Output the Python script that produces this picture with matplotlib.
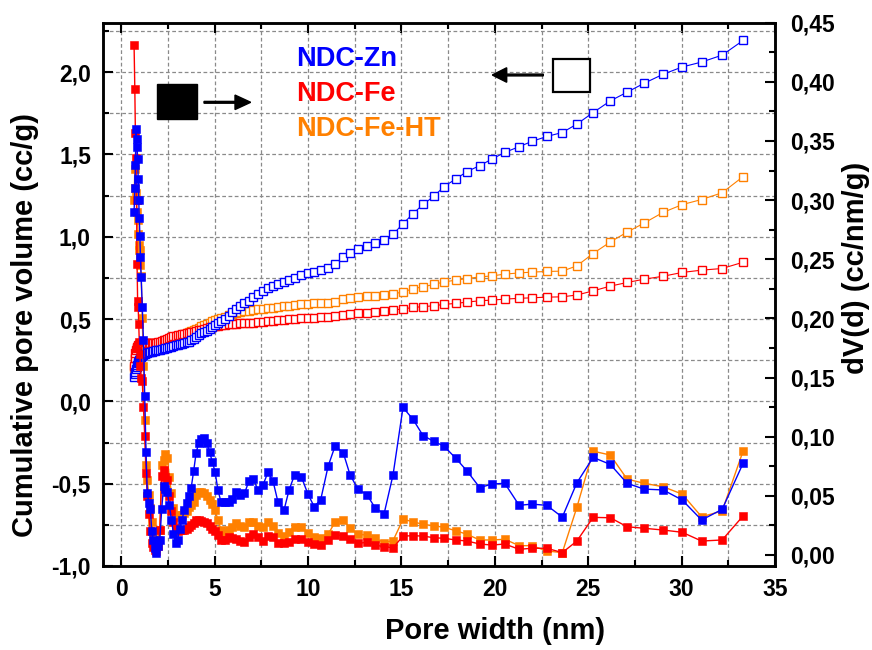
import matplotlib
matplotlib.use("Agg")
import matplotlib.pyplot as plt
from matplotlib.patches import Rectangle, FancyArrow
from matplotlib.ticker import MultipleLocator

plt.rcParams["font.family"] = ["Liberation Sans", "DejaVu Sans"]
plt.rcParams["font.weight"] = "bold"
plt.rcParams["axes.labelweight"] = "bold"

# Pore width (nm) of the DFT kernel, shared by all curves
pore_width = [
    0.68, 0.72, 0.75, 0.78, 0.81, 0.84, 0.87, 0.90, 0.93, 0.96, 0.99, 1.02, 1.06, 1.12,
    1.18, 1.25, 1.32, 1.39, 1.47, 1.55, 1.63, 1.71, 1.79, 1.88, 1.97, 2.06,
    2.16, 2.26, 2.36, 2.46, 2.57, 2.68, 2.79, 2.90, 3.01, 3.13, 3.25, 3.37, 3.49, 3.61,
    3.74, 3.87, 4.00, 4.14, 4.28, 4.42, 4.57, 4.72, 4.87, 5.02, 5.17,
    5.34, 5.54, 5.75, 5.94, 6.14, 6.35, 6.59, 6.83, 7.06, 7.32,
    7.58, 7.85, 8.12, 8.39, 8.71, 8.98, 9.28, 9.64, 9.99, 10.32,
    10.67, 11.07, 11.44, 11.88, 12.24, 12.67, 13.15, 13.60, 14.07, 14.55,
    15.08, 15.62, 16.15, 16.74, 17.28, 17.91, 18.51, 19.19, 19.85, 20.53,
    21.30, 21.98, 22.78, 23.61, 24.39, 25.26, 26.18, 27.08, 27.99, 29.01,
    30.03, 31.07, 32.17, 33.29,
]

# Cumulative pore volume (cc/g), left axis
cum_zn = [
    0.151, 0.168, 0.181, 0.195, 0.210, 0.222, 0.232, 0.240, 0.247, 0.254, 0.260, 0.265, 0.270, 0.276,
    0.283, 0.290, 0.293, 0.296, 0.298, 0.300, 0.302, 0.304, 0.307, 0.309, 0.312, 0.315,
    0.318, 0.321, 0.324, 0.326, 0.328, 0.332, 0.336, 0.340, 0.343, 0.347, 0.351, 0.355, 0.358, 0.363,
    0.370, 0.380, 0.390, 0.402, 0.414, 0.420, 0.430, 0.440, 0.450, 0.462, 0.474,
    0.487, 0.500, 0.520, 0.540, 0.560, 0.578, 0.595, 0.612, 0.632, 0.652,
    0.670, 0.688, 0.700, 0.712, 0.726, 0.738, 0.750, 0.765, 0.778, 0.787,
    0.797, 0.810, 0.837, 0.874, 0.904, 0.924, 0.944, 0.964, 0.982, 1.015,
    1.079, 1.140, 1.196, 1.246, 1.305, 1.351, 1.396, 1.432, 1.472, 1.512,
    1.547, 1.579, 1.609, 1.633, 1.684, 1.754, 1.825, 1.878, 1.932, 1.987,
    2.031, 2.061, 2.103, 2.192,
]
cum_fe = [
    0.212, 0.265, 0.295, 0.312, 0.323, 0.331, 0.336, 0.340, 0.343, 0.345, 0.347, 0.349, 0.350, 0.351,
    0.352, 0.353, 0.353, 0.353, 0.353, 0.353, 0.353, 0.354, 0.355, 0.356, 0.358, 0.361,
    0.365, 0.370, 0.375, 0.380, 0.384, 0.389, 0.394, 0.398, 0.402, 0.405, 0.408, 0.411, 0.414, 0.417,
    0.420, 0.423, 0.427, 0.431, 0.435, 0.440, 0.445, 0.449, 0.452, 0.455, 0.458,
    0.461, 0.464, 0.467, 0.469, 0.471, 0.473, 0.475, 0.477, 0.479, 0.482,
    0.485, 0.488, 0.491, 0.494, 0.497, 0.500, 0.502, 0.505, 0.507, 0.509,
    0.511, 0.513, 0.516, 0.523, 0.529, 0.534, 0.538, 0.543, 0.547, 0.555,
    0.561, 0.571, 0.575, 0.581, 0.589, 0.595, 0.603, 0.611, 0.615, 0.621,
    0.626, 0.629, 0.633, 0.635, 0.646, 0.671, 0.700, 0.722, 0.742, 0.760,
    0.783, 0.797, 0.807, 0.845,
]
cum_fe_ht = [
    0.200, 0.240, 0.260, 0.270, 0.278, 0.284, 0.288, 0.291, 0.293, 0.295, 0.297, 0.299, 0.300, 0.302,
    0.304, 0.306, 0.308, 0.310, 0.312, 0.314, 0.317, 0.320, 0.323, 0.327, 0.331, 0.336,
    0.342, 0.348, 0.354, 0.360, 0.366, 0.372, 0.378, 0.384, 0.390, 0.396, 0.402, 0.408, 0.414, 0.420,
    0.426, 0.433, 0.440, 0.447, 0.455, 0.462, 0.470, 0.478, 0.486, 0.494, 0.501,
    0.508, 0.515, 0.522, 0.530, 0.536, 0.541, 0.546, 0.550, 0.554, 0.558,
    0.562, 0.566, 0.570, 0.574, 0.578, 0.582, 0.586, 0.590, 0.593, 0.596,
    0.598, 0.600, 0.606, 0.619, 0.626, 0.632, 0.638, 0.641, 0.645, 0.652,
    0.665, 0.684, 0.696, 0.710, 0.726, 0.736, 0.746, 0.756, 0.762, 0.773,
    0.780, 0.785, 0.789, 0.791, 0.823, 0.898, 0.968, 1.028, 1.083, 1.148,
    1.195, 1.226, 1.267, 1.365,
]

# Differential pore volume dV(d) (cc/nm/g), right axis
dv_zn = [
    0.290, 0.310, 0.330, 0.360, 0.352, 0.345, 0.335, 0.318, 0.300, 0.285, 0.270, 0.252, 0.235, 0.210,
    0.182, 0.134, 0.087, 0.052, 0.044, 0.039, 0.020, 0.013, 0.006, 0.0015, 0.008, 0.013,
    0.039, 0.058, 0.056, 0.053, 0.042, 0.030, 0.018, 0.010, 0.013, 0.022, 0.030, 0.038, 0.044, 0.050,
    0.057, 0.071, 0.086, 0.095, 0.098, 0.099, 0.095, 0.087, 0.079, 0.070, 0.055,
    0.0445, 0.0445, 0.045, 0.047, 0.0535, 0.051, 0.052, 0.0625, 0.064, 0.055,
    0.059, 0.070, 0.0625, 0.0445, 0.038, 0.055, 0.068, 0.066, 0.0515, 0.041,
    0.0465, 0.075, 0.092, 0.0865, 0.068, 0.0555, 0.051, 0.0395, 0.035, 0.068,
    0.1247, 0.1146, 0.101, 0.096, 0.092, 0.0817, 0.071, 0.057, 0.060, 0.0606,
    0.042, 0.043, 0.042, 0.032, 0.061, 0.0825, 0.0766, 0.0606, 0.0557, 0.055,
    0.0465, 0.0296, 0.0386, 0.0775,
]
dv_fe = [
    0.431, 0.394, 0.357, 0.336, 0.300, 0.246, 0.215, 0.210, 0.195, 0.180, 0.170, 0.160, 0.150, 0.147,
    0.125, 0.101, 0.069, 0.050, 0.035, 0.020, 0.010, 0.007, 0.004, 0.003, 0.008, 0.021,
    0.067, 0.072, 0.066, 0.063, 0.050, 0.037, 0.028, 0.023, 0.0205, 0.021, 0.021, 0.0215, 0.022, 0.024,
    0.025, 0.027, 0.030, 0.0298, 0.029, 0.028, 0.0267, 0.0245, 0.022, 0.020, 0.017,
    0.013, 0.013, 0.0155, 0.0145, 0.0135, 0.0118, 0.0107, 0.0155, 0.0175, 0.0155,
    0.012, 0.016, 0.0155, 0.0104, 0.0099, 0.0107, 0.0132, 0.0137, 0.0107, 0.009,
    0.0084, 0.0127, 0.0172, 0.0162, 0.0133, 0.0099, 0.0107, 0.0084, 0.007, 0.0062,
    0.016, 0.0163, 0.016, 0.0146, 0.0141, 0.0127, 0.0118, 0.0093, 0.0084, 0.0093,
    0.0048, 0.0057, 0.0057, 0.002, 0.0118, 0.0318, 0.0315, 0.0239, 0.0226, 0.0211,
    0.0192, 0.0118, 0.0127, 0.033,
]
dv_fe_ht = [
    0.300, 0.326, 0.310, 0.306, 0.300, 0.290, 0.283, 0.271, 0.262, 0.258, 0.258, 0.245, 0.236, 0.200,
    0.160, 0.114, 0.076, 0.063, 0.051, 0.040, 0.028, 0.015, 0.010, 0.009, 0.013, 0.021,
    0.076, 0.080, 0.085, 0.082, 0.066, 0.052, 0.040, 0.034, 0.0324, 0.033, 0.034, 0.0355, 0.037, 0.041,
    0.042, 0.045, 0.051, 0.053, 0.053, 0.052, 0.050, 0.0465, 0.043, 0.038, 0.0296,
    0.021, 0.0197, 0.021, 0.024, 0.0268, 0.0247, 0.0239, 0.028, 0.028, 0.0247,
    0.0239, 0.028, 0.0247, 0.0183, 0.016, 0.0197, 0.0239, 0.0239, 0.0183, 0.0155,
    0.0141, 0.0177, 0.0276, 0.0296, 0.0226, 0.0175, 0.0169, 0.014, 0.0105, 0.0122,
    0.0302, 0.0281, 0.0259, 0.0247, 0.0234, 0.0205, 0.0175, 0.0127, 0.0127, 0.0133,
    0.0079, 0.0079, 0.0034, 0.002, 0.0403, 0.0878, 0.0845, 0.0642, 0.0606, 0.0577,
    0.0515, 0.0323, 0.0372, 0.0878,
]

sample_names = ["NDC-Zn", "NDC-Fe", "NDC-Fe-HT"]
sample_colors = ["#0000ff", "#ff0000", "#ff8000"]

x_ticks = [0, 5, 10, 15, 20, 25, 30, 35]
x_labels = ["0", "5", "10", "15", "20", "25", "30", "35"]
left_ticks = [-1.0, -0.5, 0.0, 0.5, 1.0, 1.5, 2.0]
left_labels = ["-1,0", "-0,5", "0,0", "0,5", "1,0", "1,5", "2,0"]
right_ticks = [0.00, 0.05, 0.10, 0.15, 0.20, 0.25, 0.30, 0.35, 0.40, 0.45]
right_labels = ["0,00", "0,05", "0,10", "0,15", "0,20", "0,25", "0,30", "0,35", "0,40", "0,45"]

W, H = 872, 650
fig = plt.figure(figsize=(W / 100, H / 100), dpi=100)
ax1 = fig.add_axes([102.7 / W, 1 - 566 / H, (775 - 102.7) / W, (566 - 22.7) / H])
ax2 = ax1.twinx()

cum_sets = {"NDC-Zn": cum_zn, "NDC-Fe": cum_fe, "NDC-Fe-HT": cum_fe_ht}
dv_sets = {"NDC-Zn": dv_zn, "NDC-Fe": dv_fe, "NDC-Fe-HT": dv_fe_ht}
draw_order = ["NDC-Fe-HT", "NDC-Fe", "NDC-Zn"]
for name in draw_order:
    col = sample_colors[sample_names.index(name)]
    ax1.plot(pore_width, cum_sets[name], "-", color=col, lw=0.8, marker="s",
             ms=5.4, mfc="white", mec=col, mew=1.0, zorder=3)
    ax2.plot(pore_width, dv_sets[name], "-", color=col, lw=1.0, marker="s",
             ms=5.8, mfc=col, mec=col, mew=0.4, zorder=3)

ax1.set_xlim(-1, 35)
ax1.set_ylim(-1.0, 2.3)
ax2.set_ylim(-0.0093, 0.4496)

ax1.set_xticks(x_ticks)
ax1.set_xticklabels(x_labels)
ax1.xaxis.set_minor_locator(MultipleLocator(2.5))
ax1.set_yticks(left_ticks)
ax1.set_yticklabels(left_labels)
ax1.yaxis.set_minor_locator(MultipleLocator(0.25))
ax2.set_yticks(right_ticks)
ax2.set_yticklabels(right_labels)
ax2.yaxis.set_minor_locator(MultipleLocator(0.025))

tick_font = 16.5
ax1.tick_params(axis="both", which="both", direction="in", top=True, right=False,
                width=1.5, labelsize=tick_font)
ax1.tick_params(axis="both", which="major", length=7)
ax1.tick_params(axis="both", which="minor", length=4)
ax1.tick_params(axis="x", pad=9)
ax1.tick_params(axis="y", pad=8.5)
ax2.tick_params(axis="y", which="both", direction="in", width=1.5, labelsize=tick_font, pad=11)
ax2.tick_params(axis="y", which="major", length=7)
ax2.tick_params(axis="y", which="minor", length=4)

for ax in (ax1, ax2):
    for sp in ax.spines.values():
        sp.set_linewidth(1.8)

ax1.set_axisbelow(True)
ax1.grid(True, which="both", axis="both", color="#8a8a8a", ls=(0, (3, 2)), lw=0.9)

label_font = 21
ax1.set_xlabel("Pore width (nm)", fontsize=label_font, va="center")
ax1.set_ylabel("Cumulative pore volume (cc/g)", fontsize=label_font, va="center")
ax2.set_ylabel("dV(d) (cc/nm/g)", fontsize=label_font, va="center")
ax1.xaxis.set_label_coords((495 - 102.7) / 672.3, -(631 - 566) / 543.3)
ax1.yaxis.set_label_coords((25 - 102.7) / 672.3, (566 - 325) / 543.3)
ax2.yaxis.set_label_coords((856 - 102.7) / 672.3, (566 - 268) / 543.3)

# sample names in their colours
for name, col, ypix in zip(sample_names, sample_colors, [59, 94, 129]):
    fig.text(296 / W, 1 - ypix / H, name, color=col, fontsize=19.5, fontweight="bold",
             ha="left", va="center")

# filled symbol -> right axis, open symbol -> left axis
fig.add_artist(Rectangle((157.3 / W, 1 - 119.3 / H), 39.4 / W, 35.3 / H,
                         transform=fig.transFigure, facecolor="black", edgecolor="black"))
fig.add_artist(FancyArrow(204 / W, 1 - 102.3 / H, 46.7 / W, 0, width=1.8 / H,
                          head_width=14.5 / H, head_length=15.7 / W,
                          length_includes_head=True, transform=fig.transFigure,
                          color="black"))
fig.add_artist(Rectangle((552.5 / W, 1 - 92 / H), 37.5 / W, 33 / H,
                         transform=fig.transFigure, facecolor="white", edgecolor="black",
                         lw=1.6))
fig.add_artist(FancyArrow(543.3 / W, 1 - 75 / H, -51 / W, 0, width=1.8 / H,
                          head_width=14.5 / H, head_length=14.4 / W,
                          length_includes_head=True, transform=fig.transFigure,
                          color="black"))

fig.savefig("out.png", dpi=100)
